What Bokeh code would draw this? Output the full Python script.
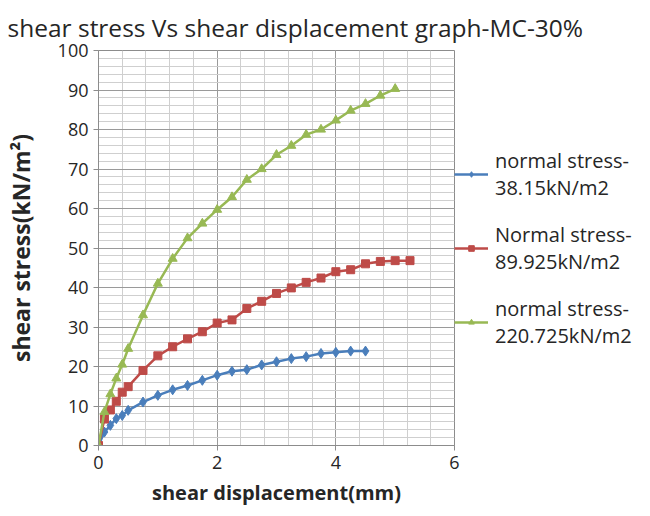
from bokeh.plotting import figure
from bokeh.models import Legend, LegendItem, SingleIntervalTicker, Range1d
from bokeh.embed import file_html
from bokeh.resources import INLINE

# ---- data ----
disp_1 = [0, 0.1, 0.2, 0.3, 0.4, 0.5, 0.75, 1.0, 1.25, 1.5, 1.75, 2.0, 2.25, 2.5,
          2.75, 3.0, 3.25, 3.5, 3.75, 4.0, 4.25, 4.5]
stress_1 = [0, 3.4, 5.1, 6.8, 7.6, 8.9, 11.0, 12.7, 14.1, 15.2, 16.5, 17.8, 18.8, 19.2,
            20.4, 21.2, 22.0, 22.5, 23.3, 23.6, 23.9, 23.9]

disp_2 = [0, 0.1, 0.2, 0.3, 0.4, 0.5, 0.75, 1.0, 1.25, 1.5, 1.75, 2.0, 2.25, 2.5,
          2.75, 3.0, 3.25, 3.5, 3.75, 4.0, 4.25, 4.5, 4.75, 5.0, 5.25]
stress_2 = [0, 6.7, 9.0, 11.2, 13.5, 14.9, 19.0, 22.7, 25.0, 27.0, 28.8, 31.0, 31.8, 34.7,
            36.5, 38.5, 39.9, 41.3, 42.4, 44.0, 44.5, 46.0, 46.6, 46.8, 46.8]

disp_3 = [0, 0.1, 0.2, 0.3, 0.4, 0.5, 0.75, 1.0, 1.25, 1.5, 1.75, 2.0, 2.25, 2.5,
          2.75, 3.0, 3.25, 3.5, 3.75, 4.0, 4.25, 4.5, 4.75, 5.0]
stress_3 = [0, 8.5, 13.0, 17.0, 20.5, 24.5, 33.0, 41.0, 47.3, 52.5, 56.2, 59.7, 62.9, 67.3,
            70.0, 73.6, 75.9, 78.7, 80.0, 82.3, 84.8, 86.5, 88.6, 90.3]

labels = ["normal stress-\n38.15kN/m2",
          "Normal stress-\n89.925kN/m2",
          "normal stress-\n220.725kN/m2"]

title_text = "shear stress Vs shear displacement graph-MC-30%"
x_label = "shear displacement(mm)"
y_label = "shear stress(kN/m\u00b2)"

FONT = "Open Sans"
TXT = "#262626"

p = figure(frame_width=356, frame_height=395, output_backend="svg", toolbar_location=None,
           x_range=Range1d(0, 6), y_range=Range1d(0, 100),
           min_border_left=98, min_border_right=0, min_border_top=50, min_border_bottom=65,
           title=title_text)

p.title.text_font = FONT
p.title.text_font_size = "24.5px"
p.title.text_font_style = "normal"
p.title.text_color = TXT
p.title.text_line_height = 1.0
p.title.offset = -91
p.title.standoff = 14

p.outline_line_color = "#8c8c8c"
p.outline_line_width = 1

p.xaxis.ticker = SingleIntervalTicker(interval=2, num_minor_ticks=5)
p.yaxis.ticker = SingleIntervalTicker(interval=10, num_minor_ticks=5)

for ax in (p.xaxis[0], p.yaxis[0]):
    ax.axis_line_color = "#8c8c8c"
    ax.major_tick_line_color = "#8c8c8c"
    ax.major_tick_out = 5
    ax.major_tick_in = 0
    ax.minor_tick_out = 0
    ax.minor_tick_in = 0
    ax.major_label_text_font = FONT
    ax.major_label_text_font_size = "18px"
    ax.major_label_text_color = TXT
    ax.axis_label_text_font = FONT
    ax.axis_label_text_font_style = "bold"
    ax.axis_label_text_color = TXT

p.xaxis.axis_label = x_label
p.yaxis.axis_label = y_label
p.xaxis.axis_label_text_font_size = "20px"
p.yaxis.axis_label_text_font_size = "23px"
p.yaxis.axis_label_standoff = 18
p.xaxis.axis_label_standoff = 7

for g in (p.xgrid[0], p.ygrid[0]):
    g.grid_line_color = "#9a9a9a"
    g.grid_line_width = 1
    g.minor_grid_line_color = "#cfcfcf"
    g.minor_grid_line_width = 1

colors = ["#4a7ebb", "#be4b48", "#98b954"]

r1l = p.line(disp_1, stress_1, line_color=colors[0], line_width=2.5)
r1m = p.scatter(disp_1, stress_1, marker="diamond", size=10, fill_color=colors[0], line_color=colors[0])
r2l = p.line(disp_2, stress_2, line_color=colors[1], line_width=2.5)
r2m = p.scatter(disp_2, stress_2, marker="square", size=8, fill_color=colors[1], line_color=colors[1])
r3l = p.line(disp_3, stress_3, line_color=colors[2], line_width=2.5)
r3m = p.scatter(disp_3, stress_3, marker="triangle", size=9, fill_color=colors[2], line_color=colors[2])

legend = Legend(items=[LegendItem(label=labels[0], renderers=[r1l, r1m]),
                       LegendItem(label=labels[1], renderers=[r2l, r2m]),
                       LegendItem(label=labels[2], renderers=[r3l, r3m])],
                location="left")
legend.label_text_font = FONT
legend.label_text_font_size = "20px"
legend.label_text_color = TXT
legend.label_text_line_height = 1.6
legend.glyph_width = 34
legend.glyph_height = 14
legend.label_standoff = 7
legend.spacing = 20
legend.padding = 0
legend.margin = 0
legend.border_line_alpha = 0
legend.background_fill_alpha = 0
p.add_layout(legend, "right")

open("out.html", "w").write(file_html(p, INLINE))
